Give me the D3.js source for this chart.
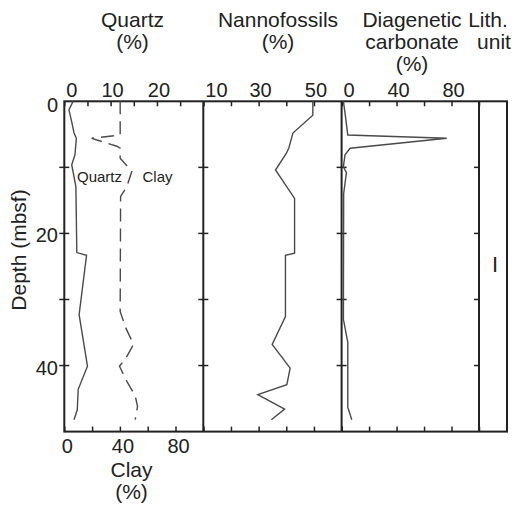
<!DOCTYPE html>
<html><head><meta charset="utf-8">
<script src="https://cdn.jsdelivr.net/npm/d3@7"></script>
<style>body{margin:0;background:#fff}svg{display:block}text{font-family:"Liberation Sans",Arial,sans-serif;fill:#222}</style>
</head><body>
<svg id="c" width="518" height="509"></svg>
<script>
// ---- data ----
const quartzDepth = [0, 1.3, 3.1, 4.8, 5.6, 8.1, 9.6, 12.9, 22.9, 23.3, 32.3, 40.1, 43.6, 46.7, 48.2];
const quartzPct   = [1.9, 1.0, 1.6, 2.1, 2.6, 2.3, 1.6, 2.5, 2.7, 4.8, 3.2, 5.0, 3.0, 2.8, 2.1];
const clayDepth = [0, 5.1, 5.6, 6.8, 7.1, 8.6, 10.6, 12.9, 14.4, 31.8, 34.1, 36.8, 38.8, 40.1, 42.4, 44.6, 46.2, 48.2];
const clayPct   = [40.2, 40.2, 19.7, 37.8, 40.2, 40.2, 48.6, 45.0, 40.5, 40.2, 43.8, 49.8, 44.5, 39.7, 45.0, 51.0, 52.7, 51.0];
const nannoDepth = [0, 2.1, 4.8, 7.1, 7.9, 10.4, 14.7, 23.0, 23.3, 32.6, 36.8, 40.4, 42.9, 44.4, 46.6, 48.2];
const nannoPct   = [49.6, 49.6, 42.4, 40.9, 40.0, 36.1, 43.0, 43.0, 39.7, 39.7, 34.9, 41.4, 40.2, 29.7, 39.4, 34.6];
const carbDepth = [0, 1.8, 5.1, 5.6, 7.1, 8.1, 9.9, 10.8, 14, 33, 36.5, 46.3, 48.2];
const carbPct   = [1.3, 2.5, 4.5, 76.5, 6.2, 2.5, 1.3, 3.5, 1.5, 1.3, 4.5, 4.5, 7.4];
const depthTicks = [0, 10, 20, 30, 40, 50];
const depthLabels = [0, 20, 40];
const quartzTicks = [0, 5, 10, 15, 20, 25, 30], quartzLabels = [0, 10, 20];
const clayTicks = [0, 20, 40, 60, 80, 100], clayLabels = [0, 40, 80];
const nannoTicks = [10, 20, 30, 40, 50, 60], nannoLabels = [10, 30, 50];
const carbTicks = [0, 20, 40, 60, 80, 100], carbLabels = [0, 40, 80];
const lithUnits = [{name: "I", top: 0, bottom: 50}];

// ---- layout ----
const svg = d3.select("#c");
const yTop = 101.3, yBot = 431.6;
const y = d3.scaleLinear([0, 50], [yTop, yBot]);
const qx = d3.scaleLinear([0, 30], [64.3, 203.3]);
const clx = d3.scaleLinear([0, 100], [64.3, 203.3]);
const nx = d3.scaleLinear([10, 60], [203.3, 341.6]);
const cx = d3.scaleLinear([0, 100], [341.6, 479]);
const lithL = 479, lithR = 507;
const ink = "#222";

function axisTicks(axisGen, ty) {
  const g = svg.append("g").attr("transform", `translate(0,${ty})`).call(axisGen);
  g.select(".domain").remove();
  g.selectAll("line").attr("stroke", ink).attr("stroke-width", 1.5);
  g.selectAll("text").remove();
}
axisTicks(d3.axisTop(qx).tickValues(quartzTicks).tickSize(-5), yTop);
axisTicks(d3.axisTop(nx).tickValues(nannoTicks).tickSize(-5), yTop);
axisTicks(d3.axisTop(cx).tickValues(carbTicks).tickSize(-5), yTop);
axisTicks(d3.axisBottom(clx).tickValues(clayTicks).tickSize(-5), yBot);
axisTicks(d3.axisBottom(nx).tickValues(nannoTicks).tickSize(-5), yBot);
axisTicks(d3.axisBottom(cx).tickValues(carbTicks).tickSize(-5), yBot);

// vertical borders with cross ticks
const inner = depthTicks.filter(d => d > 0 && d < 50);
[[64.3, -5, 5], [203.3, -5, 5], [341.6, -5, 5], [479, -5, 0]].forEach(([x, a, b]) => {
  svg.append("g").selectAll("line").data(inner).join("line")
    .attr("x1", x + a).attr("x2", x + b).attr("y1", d => y(d)).attr("y2", d => y(d))
    .attr("stroke", ink).attr("stroke-width", 1.5);
});

// frame
svg.append("rect").attr("x", 64.3).attr("y", yTop).attr("width", lithR - 64.3).attr("height", yBot - yTop)
  .attr("fill", "none").attr("stroke", ink).attr("stroke-width", 2);
[203.3, 341.6, lithL].forEach(x => svg.append("line").attr("x1", x).attr("x2", x).attr("y1", yTop).attr("y2", yBot)
  .attr("stroke", ink).attr("stroke-width", 2));

// tick labels
function topLabels(scale, vals) {
  const d0 = scale.domain()[0];
  svg.append("g").selectAll("text").data(vals).join("text")
    .attr("x", d => scale(d) + 2)
    .attr("y", 97).attr("font-size", 20)
    .attr("text-anchor", d => d === d0 ? "start" : "middle")
    .text(d => d);
}
topLabels(qx, quartzLabels);
topLabels(nx, nannoLabels);
topLabels(cx, carbLabels);
svg.append("g").selectAll("text").data(clayLabels).join("text")
  .attr("x", d => clx(d) + 3).attr("y", 453).attr("font-size", 20).attr("text-anchor", "middle").text(d => d);

svg.append("g").selectAll("text").data(depthLabels).join("text")
  .attr("x", 58).attr("y", d => y(d) + (d === 0 ? 4 : 2)).attr("dy", "0.35em")
  .attr("font-size", 20).attr("text-anchor", "end").text(d => d);

// titles
function title(x, lines, y0) {
  const t = svg.append("text").attr("font-size", 21).attr("text-anchor", "middle");
  lines.forEach((l, i) => t.append("tspan").attr("x", x).attr("y", y0 + i * 22).text(l));
}
title(132.5, ["Quartz", "(%)"], 27);
title(278, ["Nannofossils", "(%)"], 27);
title(412, ["Diagenetic", "carbonate", "(%)"], 27);
svg.append("text").attr("font-size", 21).attr("x", 488).attr("y", 27).attr("text-anchor", "middle").text("Lith.");
svg.append("text").attr("font-size", 21).attr("x", 494).attr("y", 49).attr("text-anchor", "middle").text("unit");
title(131.5, ["Clay", "(%)"], 477);
svg.append("text").attr("font-size", 21).attr("text-anchor", "middle")
  .attr("transform", "translate(26,250) rotate(-90)").text("Depth (mbsf)");

// lith unit
svg.append("g").selectAll("text").data(lithUnits).join("text")
  .attr("x", (lithL + lithR) / 2 + 2).attr("y", d => y((d.top + d.bottom) / 2) - 2).attr("dy", "0.35em")
  .attr("font-size", 22).attr("text-anchor", "middle").text(d => d.name);

// curves
function curve(depths, vals, xs, dash) {
  const pts = depths.map((d, i) => [xs(vals[i]), y(d)]);
  svg.append("path").attr("d", d3.line()(pts)).attr("fill", "none")
    .attr("stroke", "#4a4a4a").attr("stroke-width", 1.4)
    .attr("stroke-dasharray", dash || null);
}
curve(quartzDepth, quartzPct, qx);
curve(clayDepth, clayPct, clx, "13,7");
curve(nannoDepth, nannoPct, nx);
curve(carbDepth, carbPct, cx);

// in-plot labels
svg.append("rect").attr("x", 77).attr("y", 168).attr("width", 45).attr("height", 17).attr("fill", "#fff");
svg.append("text").attr("x", 99.5).attr("y", 182).attr("font-size", 15).attr("text-anchor", "middle").text("Quartz");
svg.append("text").attr("x", 157.5).attr("y", 182).attr("font-size", 15).attr("text-anchor", "middle").text("Clay");
</script>
</body></html>
